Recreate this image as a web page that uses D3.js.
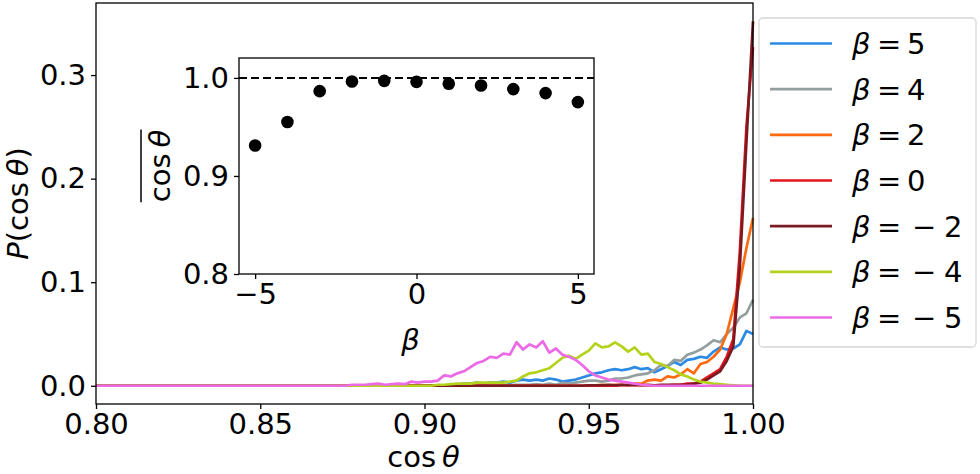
<!DOCTYPE html>
<html>
<head>
<meta charset="utf-8">
<script src="https://cdn.jsdelivr.net/npm/d3@7"></script>
<style>
  body { margin: 0; background: #fff; }
  svg text { font-family: "DejaVu Sans", sans-serif; fill: #000; }
</style>
</head>
<body>
<div id="chart-area"></div>
<script>
// histogram bin centres (cos theta); below 0.870 all series are zero
const cosTheta = [0.800,
  0.870, 0.872, 0.874, 0.876, 0.878, 0.880, 0.882, 0.884, 0.886, 0.888,
  0.890, 0.892, 0.894, 0.896, 0.898, 0.900, 0.902, 0.904, 0.906, 0.908,
  0.910, 0.912, 0.914, 0.916, 0.918, 0.920, 0.922, 0.924, 0.926, 0.928,
  0.930, 0.932, 0.934, 0.936, 0.938, 0.940, 0.942, 0.944, 0.946, 0.948,
  0.950, 0.952, 0.954, 0.956, 0.958, 0.960, 0.962, 0.964, 0.966, 0.968,
  0.970, 0.972, 0.974, 0.976, 0.978, 0.980, 0.982, 0.984, 0.986, 0.988,
  0.990, 0.992, 0.994, 0.996, 0.998, 1.000];

const pBeta5 = [0,
  0, 0, 0, 0, 0, 0, 0, 0, 0, 0,
  0, 0, 0, 0, 0, 0, 0, 0, 0, 0.0005,
  0.001, 0.002, 0.002, 0.003, 0.002, 0.003, 0.003, 0.004, 0.003, 0.005,
  0.006, 0.005, 0.006, 0.005, 0.007, 0.006, 0.004, 0.005, 0.006, 0.008,
  0.010, 0.012, 0.013, 0.015, 0.016, 0.015, 0.016, 0.018, 0.016, 0.017,
  0.013, 0.016, 0.019, 0.023, 0.020, 0.025, 0.026, 0.028, 0.027, 0.033,
  0.037, 0.035, 0.036, 0.040, 0.053, 0.050];

const pBeta4 = [0,
  0, 0, 0, 0, 0, 0, 0, 0, 0, 0,
  0, 0, 0, 0, 0, 0, 0, 0, 0, 0,
  0, 0, 0, 0, 0, 0, 0, 0.0005, 0.0005, 0.001,
  0.001, 0.001, 0.0015, 0.001, 0.002, 0.001, 0.003, 0.002, 0.003, 0.004,
  0.005, 0.005, 0.004, 0.005, 0.007, 0.007, 0.008, 0.010, 0.011, 0.012,
  0.015, 0.020, 0.019, 0.025, 0.024, 0.030, 0.032, 0.035, 0.039, 0.044,
  0.042, 0.050, 0.056, 0.066, 0.070, 0.083];

const pBeta2 = [0,
  0, 0, 0, 0, 0, 0, 0, 0, 0, 0,
  0, 0, 0, 0, 0, 0, 0, 0, 0, 0,
  0, 0, 0, 0, 0, 0, 0, 0, 0, 0,
  0, 0, 0, 0, 0, 0, 0, 0, 0, 0,
  0.0005, 0.0005, 0.001, 0.0005, 0.001, 0.001, 0.001, 0.002, 0.002, 0.005,
  0.006, 0.005, 0.009, 0.008, 0.011, 0.016, 0.012, 0.021, 0.023, 0.028,
  0.035, 0.050, 0.075, 0.100, 0.133, 0.162];

const pBeta0 = [0,
  0, 0, 0, 0, 0, 0, 0, 0, 0, 0,
  0, 0, 0, 0, 0, 0, 0, 0, 0, 0,
  0, 0, 0, 0, 0, 0, 0, 0, 0, 0,
  0, 0, 0, 0, 0, 0, 0, 0, 0, 0,
  0, 0, 0, 0, 0, 0.0005, 0.0005, 0.0005, 0.0005, 0.0005,
  0.0005, 0.0005, 0.0005, 0.001, 0.001, 0.002, 0.002, 0.004, 0.008, 0.012,
  0.016, 0.028, 0.045, 0.130, 0.250, 0.327];

const pBetaM2 = [0,
  0, 0, 0, 0, 0, 0, 0, 0, 0, 0,
  0, 0, 0, 0, 0, 0, 0, 0, 0, 0,
  0, 0, 0, 0, 0, 0, 0, 0, 0, 0,
  0, 0, 0, 0, 0, 0, 0, 0, 0, 0,
  0.0005, 0.0005, 0.0005, 0.001, 0.0005, 0.001, 0.0005, 0.001, 0.0005, 0.001,
  0.0005, 0.001, 0.001, 0.001, 0.001, 0.001, 0.002, 0.003, 0.006, 0.010,
  0.014, 0.024, 0.038, 0.115, 0.235, 0.352];

const pBetaM4 = [0,
  0, 0, 0, 0, 0, 0, 0, 0, 0, 0,
  0, 0, 0, 0, 0, 0, 0, 0.001, 0.001, 0.0015,
  0.002, 0.002, 0.002, 0.003, 0.003, 0.003, 0.003, 0.003, 0.004, 0.005,
  0.009, 0.012, 0.013, 0.015, 0.017, 0.022, 0.027, 0.029, 0.026, 0.030,
  0.034, 0.041, 0.037, 0.038, 0.042, 0.038, 0.033, 0.037, 0.030, 0.031,
  0.023, 0.021, 0.018, 0.015, 0.011, 0.009, 0.006, 0.004, 0.003, 0.002,
  0.0015, 0.001, 0.0005, 0, 0, 0];

const pBetaM5 = [0,
  0, 0, 0, 0, 0.001, 0.001, 0.001, 0.0015, 0.002, 0.001,
  0.0015, 0.002, 0.0015, 0.004, 0.003, 0.004, 0.004, 0.005, 0.010, 0.009,
  0.012, 0.014, 0.018, 0.022, 0.024, 0.028, 0.027, 0.031, 0.030, 0.042,
  0.035, 0.040, 0.037, 0.043, 0.032, 0.036, 0.030, 0.028, 0.025, 0.020,
  0.014, 0.010, 0.008, 0.006, 0.005, 0.004, 0.003, 0.002, 0.001, 0.0005,
  0, 0, 0, 0, 0, 0, 0, 0, 0, 0,
  0, 0, 0, 0, 0, 0];

const seriesNames = ["\u03b2 = 5", "\u03b2 = 4", "\u03b2 = 2", "\u03b2 = 0", "\u03b2 = \u22122", "\u03b2 = \u22124", "\u03b2 = \u22125"];
const seriesValues = [pBeta5, pBeta4, pBeta2, pBeta0, pBetaM2, pBetaM4, pBetaM5];
const seriesColors = ["#2b8ae6", "#939f9f", "#ff6a10", "#e3141c", "#7a1b22", "#b4d21c", "#ec6ae6"];

// inset: mean cos theta against beta
const insetBeta = [-5, -4, -3, -2, -1, 0, 1, 2, 3, 4, 5];
const insetMeanCos = [0.931, 0.955, 0.9865, 0.9963, 0.997, 0.996, 0.994, 0.9923, 0.9886, 0.9845, 0.9753];

const mainXTicks = [0.80, 0.85, 0.90, 0.95, 1.00];
const mainYTicks = [0.0, 0.1, 0.2, 0.3];
const insetXTicks = [-5, 0, 5];
const insetYTicks = [0.8, 0.9, 1.0];

const W = 980, H = 474;
const margin = { left: 96, right: 227, top: 3, bottom: 70 };
const width = W - margin.left - margin.right,
    height = H - margin.top - margin.bottom;
const fontSize = 29;

var svg = d3.select("#chart-area")
    .append("svg")
    .attr("width", W)
    .attr("height", H);

var g = svg.append("g")
    .attr("transform", `translate(${margin.left}, ${margin.top})`);

var x = d3.scaleLinear().domain([0.8, 1.0]).range([0, width]);
var y = d3.scaleLinear().domain([-0.0176, 0.3696]).range([height, 0]);

// axes
var xAxisCall = d3.axisBottom(x).tickValues(mainXTicks).tickFormat(d3.format(".2f")).tickSize(5).tickPadding(4);
var yAxisCall = d3.axisLeft(y).tickValues(mainYTicks).tickFormat(d3.format(".1f")).tickSize(5).tickPadding(5);

function styleAxis(sel) {
    sel.selectAll("path").remove();
    sel.selectAll("line").attr("stroke", "#000").attr("stroke-width", 1.3);
    sel.selectAll("text").style("font-size", fontSize + "px").attr("fill", "#000");
}

g.append("g").attr("transform", `translate(0, ${height})`).call(xAxisCall).call(styleAxis);
g.append("g").call(yAxisCall).call(styleAxis);
g.selectAll(".tick text").attr("font-family", "DejaVu Sans");

// curves
var line = d3.line()
    .x((d, i) => x(cosTheta[i]))
    .y(d => y(d));

seriesValues.forEach(function (vals, k) {
    g.append("path")
        .datum(vals)
        .attr("fill", "none")
        .attr("stroke", seriesColors[k])
        .attr("stroke-width", 2.7)
        .attr("stroke-linejoin", "round")
        .attr("d", line);
});

// frame
g.append("rect")
    .attr("width", width).attr("height", height)
    .attr("fill", "none").attr("stroke", "#000").attr("stroke-width", 1.3);

// axis labels
svg.append("text")
    .attr("x", margin.left + width / 2 - 1).attr("y", 467)
    .attr("text-anchor", "middle")
    .style("font-size", fontSize + "px")
    .html('cos\u2009<tspan font-style="italic">\u03b8</tspan>');

svg.append("text")
    .attr("transform", `translate(28, ${margin.top + height / 2}) rotate(-90)`)
    .attr("text-anchor", "middle")
    .style("font-size", fontSize + "px")
    .html('<tspan font-style="italic">P</tspan>(cos\u2009<tspan font-style="italic">\u03b8</tspan>)');

// inset
const inset = { left: 239, top: 58, width: 355, height: 216 };
var ig = svg.append("g").attr("transform", `translate(${inset.left}, ${inset.top})`);

var xi = d3.scaleLinear().domain([-5.5, 5.5]).range([0, inset.width]);
var yi = d3.scaleLinear().domain([0.8, 1.0203]).range([inset.height, 0]);

ig.append("rect")
    .attr("width", inset.width).attr("height", inset.height)
    .attr("fill", "#fff");

ig.append("g").attr("transform", `translate(0, ${inset.height})`)
    .call(d3.axisBottom(xi).tickValues(insetXTicks).tickFormat(d3.format("d")).tickSize(5).tickPadding(4))
    .call(styleAxis);
ig.append("g")
    .call(d3.axisLeft(yi).tickValues(insetYTicks).tickFormat(d3.format(".1f")).tickSize(5).tickPadding(5))
    .call(styleAxis);

ig.append("line")
    .attr("x1", 0).attr("x2", inset.width)
    .attr("y1", yi(1.0)).attr("y2", yi(1.0))
    .attr("stroke", "#000").attr("stroke-width", 2)
    .attr("stroke-dasharray", "8,4");

ig.selectAll("circle")
    .data(insetBeta)
    .enter().append("circle")
    .attr("cx", d => xi(d))
    .attr("cy", (d, i) => yi(insetMeanCos[i]))
    .attr("r", 6.3)
    .attr("fill", "#000");

ig.append("rect")
    .attr("width", inset.width).attr("height", inset.height)
    .attr("fill", "none").attr("stroke", "#000").attr("stroke-width", 1.3);

svg.append("text")
    .attr("x", inset.left + inset.width / 2 - 6).attr("y", 350)
    .attr("text-anchor", "middle")
    .style("font-size", fontSize + "px")
    .attr("font-style", "italic")
    .text("\u03b2");

var ylab = svg.append("g")
    .attr("transform", `translate(170, ${inset.top + inset.height / 2}) rotate(-90)`);
var ylabText = ylab.append("text")
    .attr("text-anchor", "middle")
    .style("font-size", fontSize + "px")
    .html('cos\u2009<tspan font-style="italic">\u03b8</tspan>');
var bb = ylabText.node().getBBox();
ylab.append("line")
    .attr("x1", bb.x).attr("x2", bb.x + bb.width)
    .attr("y1", -29).attr("y2", -29)
    .attr("stroke", "#000").attr("stroke-width", 1.5);

// legend
var legend = svg.append("g");
legend.append("rect")
    .attr("x", 759).attr("y", 18).attr("width", 217).attr("height", 329)
    .attr("rx", 4)
    .attr("fill", "#fff").attr("stroke", "#d6d6d6").attr("stroke-width", 1.3);

var rowY = d3.scaleLinear().domain([0, 6]).range([43.5, 317.5]);
seriesNames.forEach(function (name, k) {
    var ry = rowY(k);
    legend.append("line")
        .attr("x1", 770).attr("x2", 832)
        .attr("y1", ry).attr("y2", ry)
        .attr("stroke", seriesColors[k]).attr("stroke-width", 2.7);
    var parts = name.split(" = ");
    var t = legend.append("text")
        .attr("y", ry + 10.5)
        .style("font-size", fontSize + "px");
    t.append("tspan").attr("x", 852).attr("font-style", "italic").text(parts[0]);
    t.append("tspan").attr("x", 877).text("=");
    if (parts[1][0] === "\u2212") {
        t.append("tspan").attr("x", 912).text("\u2212");
        t.append("tspan").attr("x", 944).text(parts[1].slice(1));
    } else {
        t.append("tspan").attr("x", 907).text(parts[1]);
    }
});
</script>
</body>
</html>
